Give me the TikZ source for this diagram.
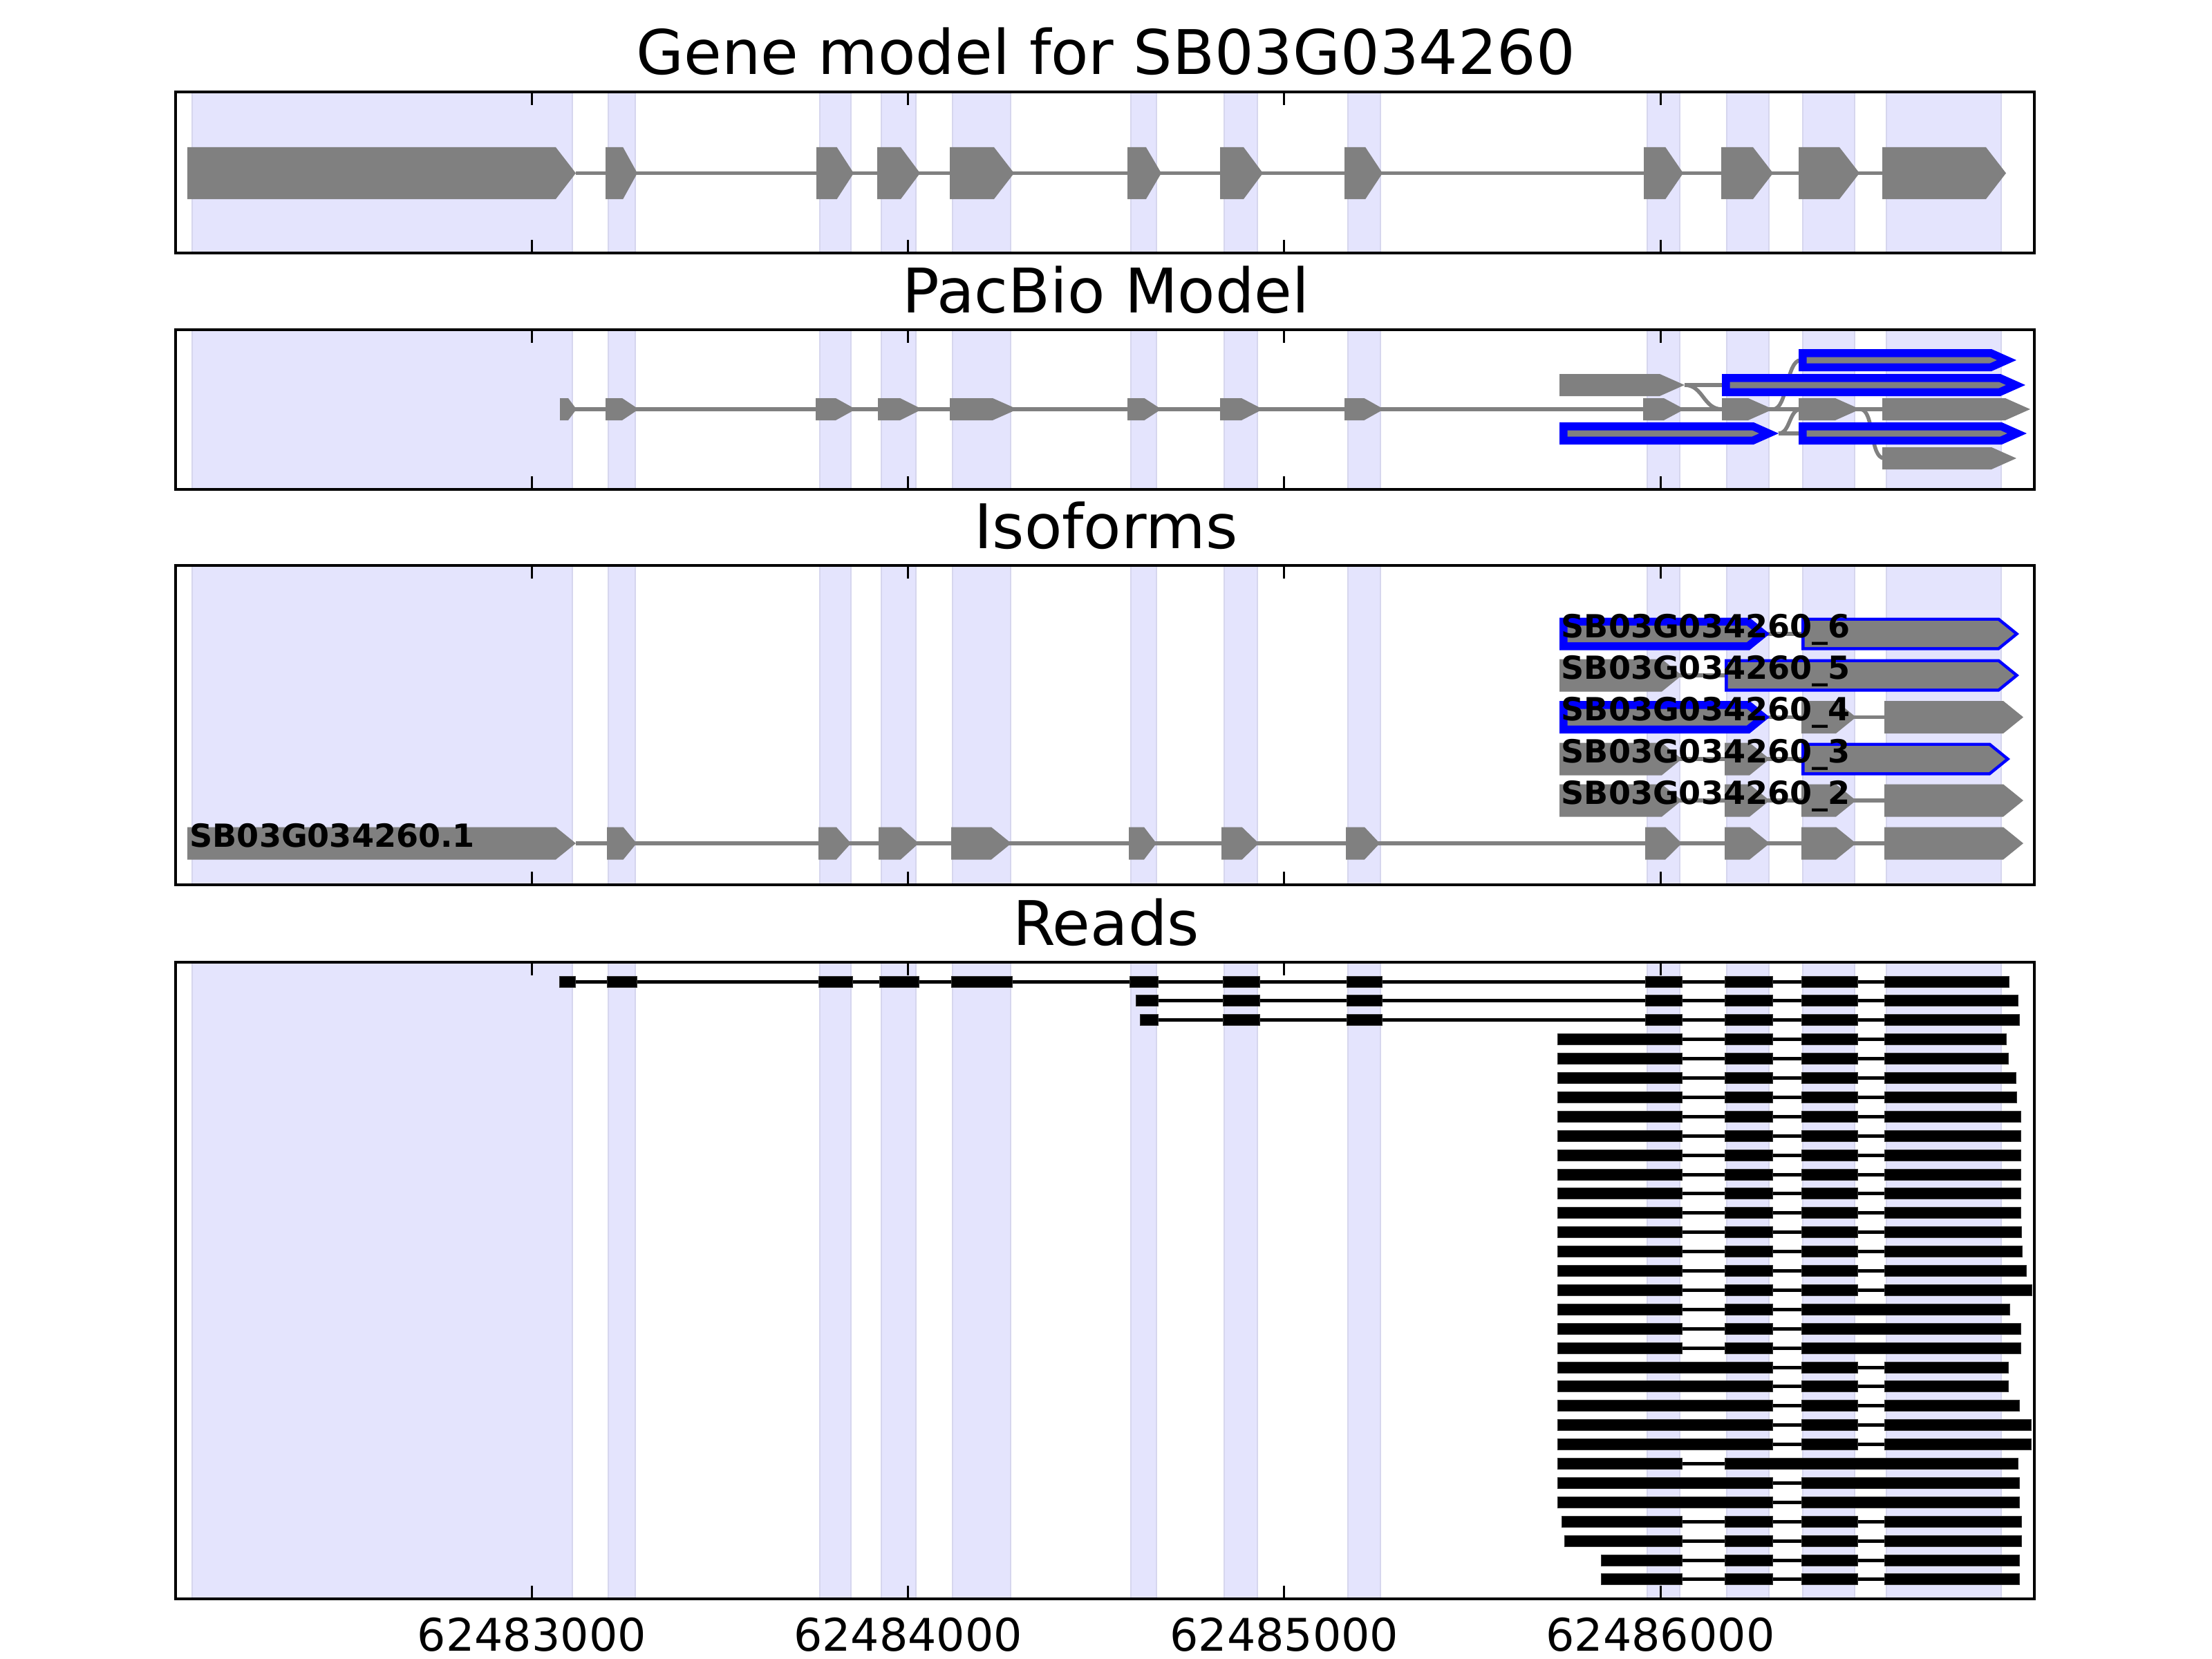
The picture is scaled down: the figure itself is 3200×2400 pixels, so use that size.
\documentclass[tikz,border=0pt]{standalone}
\usepackage{fontspec}
\setmainfont{DejaVu Sans}
\usepackage{tikz}

\definecolor{bandblue}{RGB}{228,228,253}
\definecolor{bandedge}{RGB}{214,214,238}
\definecolor{genegray}{RGB}{128,128,128}

% head of an exon arrow: min(frac*length, cap)
\newcommand{\hfrac}{0.45}
\newcommand{\hcap}{29}

% #2 start, #3 tip, #4 centre y, #5 half height
\newcommand{\exon}[5][gene]{%
  \pgfmathsetmacro{\exA}{#2}\pgfmathsetmacro{\exB}{#3}%
  \pgfmathsetmacro{\exH}{min(\hfrac*(\exB-\exA),\hcap)}%
  \fill[#1] (\exA,{#4-(#5)}) -- ({\exB-\exH},{#4-(#5)}) -- (\exB,#4)
    -- ({\exB-\exH},{#4+(#5)}) -- (\exA,{#4+(#5)}) -- cycle;}

% blue edged exon, #1 edge width
\newcommand{\boxexon}[5]{%
  \exon[isoline]{#2}{#3}{#4}{#5}%
  \pgfmathsetmacro{\inTip}{#3-#1*sqrt(\exH*\exH+#5*#5)/#5}%
  \pgfmathsetmacro{\inHd}{(#5-#1)*\exH/#5}%
  \fill[gene] ({#2+#1},{#4-#5+#1}) -- ({\inTip-\inHd},{#4-#5+#1}) -- (\inTip,#4)
    -- ({\inTip-\inHd},{#4+#5-#1}) -- ({#2+#1},{#4+#5-#1}) -- cycle;}

\newcommand{\readbar}[2]{\filldraw[readbox] (#1,{\rowy-8}) rectangle (#2,{\rowy+8});}

\begin{document}
\begin{tikzpicture}[x=0.01cm, y=-0.01cm,
	gene/.style={fill=genegray},
	isoline/.style={fill=blue},
	intron/.style={draw=genegray, line width=0.055cm},
	band/.style={fill=bandblue, draw=bandedge, line width=0.02cm},
	frame/.style={draw=black, line width=0.045cm},
	tickmark/.style={draw=black, line width=0.03cm},
	readline/.style={draw=black, line width=0.05cm},
	readbox/.style={fill=black, draw=black!80, line width=0.01cm},
	title/.style={font=\fontsize{25.3}{30}\selectfont, inner sep=0, anchor=base},
	ticklabel/.style={font=\fontsize{18.5}{22}\selectfont, inner sep=0, anchor=base},
	isolabel/.style={font=\fontsize{13.1}{15}\selectfont\bfseries, inner sep=0, anchor=base west}]
	\useasboundingbox (0,0) rectangle (3200,2400);

	% exon bands in all four panels
	\foreach \pa/\pb in {133/366,477/708,818/1280,1392/2313}
		\foreach \ua/\ub in {278/828,880/919,1186/1231,1275/1325,1378/1462,1636/1673,
				1771/1819,1950/1997,2383/2430,2498/2559,2608/2683,2729/2895}
			{\filldraw[band] (\ua,\pa) rectangle (\ub,\pb);}

	\node[title] (title1) at (1600,108) {Gene model for SB03G034260};
	\node[title] (title2) at (1600,452) {PacBio Model};
	\node[title] (title3) at (1600,793) {Isoforms};
	\node[title] (title4) at (1600,1367) {Reads};

	% gene model
	\draw[intron] (833,250.5) -- (2723,250.5);
	\foreach \ua/\ub in {271/833,876/922,1181/1235,1269/1331,1374/1467,1631/1680,
			1765/1827,1945/2000,2378/2435,2490/2565,2602/2690,2723/2902}
		{\exon{\ua}{\ub}{250.5}{37.5}}

	% pacbio model
	\begin{scope}
		\renewcommand{\hfrac}{0.5}\renewcommand{\hcap}{36}
		\draw[intron] (812,592) -- (2723,592);
		\draw[intron] (2437,557) -- (2491,557);
		\draw[intron] (2573,627) -- (2602,627);
		\draw[intron] (2437,557) .. controls (2464,557) and (2464,592) .. (2491,592);
		\draw[intron] (2565,592) .. controls (2586,592) and (2584,521) .. (2605,521);
		\draw[intron] (2573,627) .. controls (2590,627) and (2588,592) .. (2605,592);
		\draw[intron] (2691,592) .. controls (2712,592) and (2704,663) .. (2726,663);
		\foreach \ua/\ub in {810/834,876/924,1180/1238,1270/1334,1374/1472,1631/1680,
				1765/1827,1945/2002,2377/2437,2491/2565,2602/2691,2723/2937}
			{\exon{\ua}{\ub}{592}{16}}
		\exon{2256}{2437}{557}{16}
		\exon{2723}{2917}{663}{16}
		\boxexon{11.5}{2602}{2917}{521}{16}
		\boxexon{11.5}{2491}{2930}{557}{16}
		\boxexon{11.5}{2256}{2573}{627}{16}
		\boxexon{11.5}{2602}{2932}{627}{16}
	\end{scope}

	% isoforms
	\draw[intron] (833,1220) -- (2726,1220);
	\foreach \ua/\ub in {271/833,878/921,1184/1231,1271/1329,1376/1463,1633/1673,
			1767/1821,1947/1996,2380/2433,2495/2560,2606/2685,2726/2927}
		{\exon{\ua}{\ub}{1220}{23.5}}
	\foreach \rowy/\rowb in {917/2606,977/2495,1037.5/2726,1098/2606,1158/2726}
		{\draw[intron] (2420,\rowy) -- (\rowb,\rowy);}
	\boxexon{11.5}{2256}{2560}{917}{23.5}
	\boxexon{4.5}{2606}{2921}{917}{23.5}
	\exon{2256}{2433}{977}{23.5}
	\boxexon{4.5}{2495}{2921}{977}{23.5}
	\boxexon{11.5}{2256}{2560}{1037.5}{23.5}
	\exon{2606}{2685}{1037.5}{23.5}
	\exon{2726}{2927}{1037.5}{23.5}
	\exon{2256}{2433}{1098}{23.5}
	\exon{2495}{2560}{1098}{23.5}
	\boxexon{4.5}{2606}{2908}{1098}{23.5}
	\foreach \ua/\ub in {2256/2433,2495/2560,2606/2685,2726/2927}
		{\exon{\ua}{\ub}{1158}{23.5}}
	\node[isolabel] (iso1) at (274,1225) {SB03G034260.1};
	\foreach \rowy/\k in {917/6,977/5,1037.5/4,1098/3,1158/2}
		{\node[isolabel] (iso\k) at (2258,\rowy+5) {SB03G034260\_\k};}

	% reads
	\foreach \rowy/\rowa/\rowb in {1420/1634/2906,1447.9/1643/2919,1475.8/1649/2921}{
		\draw[readline] (\rowa,\rowy) -- (\rowb,\rowy);
		\foreach \ua/\ub in {\rowa/1675,1769/1822,1948/1999,2380/2433,2495/2564,2606/2687,2726/\rowb}
			{\readbar{\ua}{\ub}}
	}
	\begin{scope}
		\newcommand{\rowy}{1420}
		\draw[readline] (809,1420) -- (1634,1420);
		\foreach \ua/\ub in {809/832,878/921,1184/1233,1272/1329,1376/1464}
			{\readbar{\ua}{\ub}}
	\end{scope}
	\foreach \n/\rowa/\rowb/\rowk in {4/2253/2902/1,5/2253/2905/1,6/2253/2916/1,7/2253/2917/1,
			8/2253/2923/1,9/2253/2923/1,10/2253/2923/1,11/2253/2923/1,12/2253/2923/1,
			13/2253/2923/1,14/2253/2924/1,15/2253/2925/1,16/2253/2931/1,17/2253/2939/1,
			18/2253/2907/2,19/2253/2923/2,20/2253/2923/2,21/2253/2905/3,22/2253/2905/3,
			23/2253/2921/3,24/2253/2938/3,25/2253/2938/3,26/2253/2919/4,27/2253/2921/5,
			28/2253/2921/5,29/2259/2924/1,30/2263/2924/1,31/2316/2921/1,32/2316/2921/1}{
		\pgfmathsetmacro{\rowy}{1420+(\n-1)*27.9}
		\draw[readline] (\rowa,\rowy) -- (\rowb,\rowy);
		\ifcase\rowk\or
			\readbar{\rowa}{2433}\readbar{2495}{2564}\readbar{2606}{2687}\readbar{2726}{\rowb}
		\or
			\readbar{\rowa}{2433}\readbar{2495}{2564}\readbar{2606}{\rowb}
		\or
			\readbar{\rowa}{2564}\readbar{2606}{2687}\readbar{2726}{\rowb}
		\or
			\readbar{\rowa}{2433}\readbar{2495}{\rowb}
		\or
			\readbar{\rowa}{2564}\readbar{2606}{\rowb}
		\fi
	}

	% frames and ticks
	\foreach \pa/\pb in {133/366,477/708,818/1280,1392/2313}{
		\draw[frame] (254,\pa) rectangle (2943,\pb);
		\foreach \tx in {769.4,1313.6,1857.8,2402}{
			\draw[tickmark] (\tx,\pa) -- (\tx,\pa+19);
			\draw[tickmark] (\tx,\pb) -- (\tx,\pb-19);
		}
	}
	\foreach \tx/\tl in {769.4/62483000,1313.6/62484000,1857.8/62485000,2402/62486000}
		{\node[ticklabel] (tick\tl) at (\tx,2388) {\tl};}
\end{tikzpicture}
\end{document}
